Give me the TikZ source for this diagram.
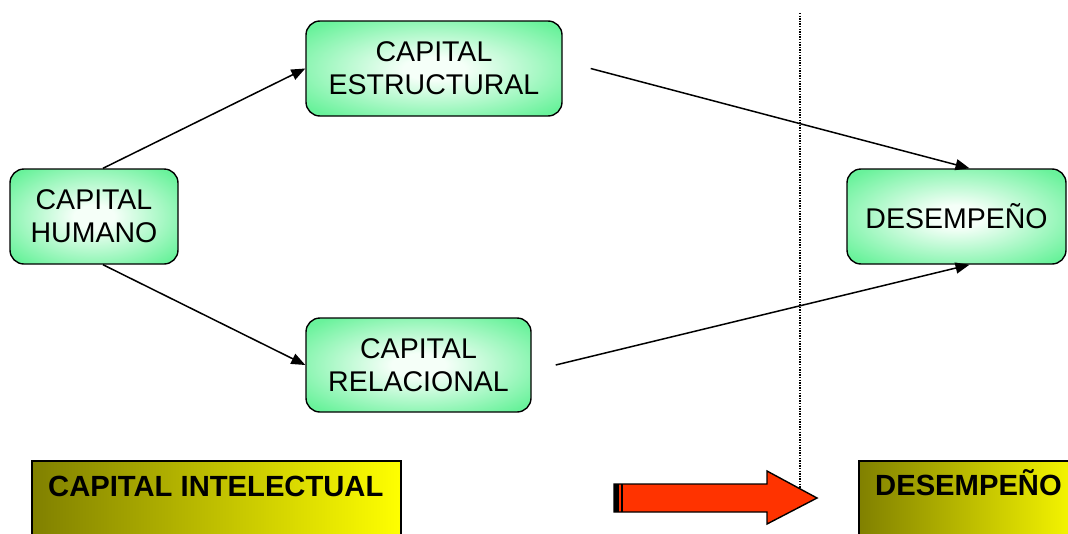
\documentclass[tikz,border=0pt]{standalone}
\usepackage{fontspec}
\setmainfont{Liberation Sans}
\usetikzlibrary{arrows.meta}
\definecolor{boxgreen}{RGB}{105,242,155}
\definecolor{boxcore}{RGB}{245,255,248}
\definecolor{arrowred}{RGB}{255,51,0}
\definecolor{darkolive}{RGB}{128,128,0}
\definecolor{brightyellow}{RGB}{255,255,0}
% soft glow: light centre that fades to green towards the border
\pgfdeclareradialshading{greenglow}{\pgfpoint{0bp}{0bp}}{%
  color(0bp)=(boxcore); color(6bp)=(boxcore); color(32bp)=(boxgreen); color(50bp)=(boxgreen)}
\begin{document}
\begin{tikzpicture}[x=1pt,y=-1pt,
  capbox/.style={draw=black, line width=1.4pt, rounded corners=14pt,
    shading=greenglow, align=center,
    font=\fontsize{28.5}{33}\selectfont, inner sep=0pt},
  link/.style={line width=1.5pt, -{Triangle[length=14pt,width=11pt]}},
  titlebox/.style={draw=black, line width=1.4pt, left color=darkolive, right color=brightyellow},
  titletext/.style={anchor=base west, inner sep=0pt, font=\fontsize{29.2}{33}\selectfont\bfseries}
]
\useasboundingbox (0,0) rectangle (1068,533);
\clip (0,0) rectangle (1068,533);

% divider between intellectual capital and performance
\draw[line width=1.4pt, dash pattern=on 1.4pt off 1.2pt] (800,13) -- (800,490);

% capital components
\node[capbox, minimum width=168pt, minimum height=95pt] (hum) at (94,216.5) {CAPITAL\\HUMANO};
\node[capbox, minimum width=256pt, minimum height=95pt] (est) at (434,68.5) {CAPITAL\\ESTRUCTURAL};
\node[capbox, minimum width=225pt, minimum height=94pt] (rel) at (418.5,365) {CAPITAL\\RELACIONAL};
\node[capbox, minimum width=219pt, minimum height=95pt] (des) at (956.5,216.5) {DESEMPEÑO};

% relations
\draw[link] ([xshift=9pt]hum.north) -- (est.west);
\draw[link] ([xshift=9pt]hum.south) -- (rel.west);
\draw[link] ([xshift=28pt]est.east) -- ([xshift=13pt]des.north);
\draw[link] ([xshift=24pt]rel.east) -- ([xshift=13pt]des.south);

% bottom captions
\path[titlebox] (32,461) rectangle (401,560);
\node[titletext] (capt1) at (48,496) {CAPITAL INTELECTUAL};
\path[titlebox] (859,461) rectangle (1090,560);
\node[titletext] (capt2) at (875,495) {DESEMPEÑO};

% block arrow between the two captions
\draw[line width=1.4pt, fill=arrowred, line join=miter]
  (614,484) -- (767,484) -- (767,471) -- (817,498) -- (767,524) -- (767,512) -- (614,512) -- cycle;
\fill[black] (614,484) rectangle (619,512);
\draw[line width=1.2pt] (622,484) -- (622,512);
\end{tikzpicture}
\end{document}
